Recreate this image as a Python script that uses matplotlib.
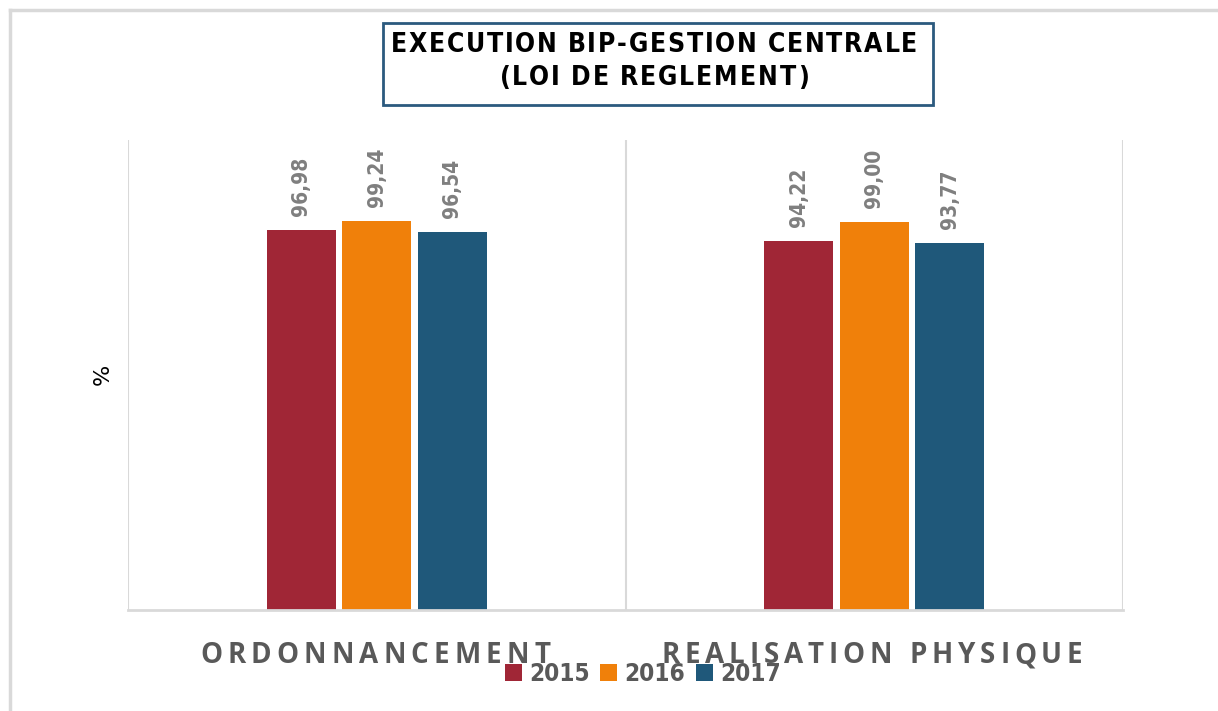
import matplotlib
matplotlib.use("Agg")
import matplotlib.pyplot as plt
from matplotlib.patches import Rectangle
from matplotlib.lines import Line2D

categories = ["ORDONNANCEMENT", "REALISATION PHYSIQUE"]
years = ["2015", "2016", "2017"]
values = {
    "2015": [96.98, 94.22],
    "2016": [99.24, 99.00],
    "2017": [96.54, 93.77],
}
labels = {
    "2015": ["96,98", "94,22"],
    "2016": ["99,24", "99,00"],
    "2017": ["96,54", "93,77"],
}
colors = {"2015": "#A02636", "2016": "#F0800A", "2017": "#1F587A"}
title_lines = ["EXECUTION BIP-GESTION CENTRALE", "(LOI DE REGLEMENT)"]

W, H = 1218, 711
fig = plt.figure(figsize=(W / 100, H / 100), dpi=100)
fig.patch.set_facecolor("white")

def fx(px):
    return px / W

def fy(py):
    return 1 - py / H

# outer chart border (left and top visible)
fig.add_artist(Line2D([fx(10), fx(10)], [fy(10), fy(711)], color="#D9D9D9", lw=2.5))
fig.add_artist(Line2D([fx(10), fx(1218)], [fy(10), fy(10)], color="#D9D9D9", lw=2.5))

ax = fig.add_axes([fx(128), fy(610), fx(1123) - fx(128), fy(140) - fy(610)])
ax.set_xlim(-0.5, 1.5)
ax.set_ylim(0, 120)
for s in ["top", "right", "left"]:
    ax.spines[s].set_visible(False)
ax.spines["bottom"].set_color("#D9D9D9")
ax.spines["bottom"].set_linewidth(2)
ax.set_xticks([])
ax.set_yticks([])
ax.patch.set_alpha(0)
for xv in [-0.5, 0.5, 1.5]:
    ax.axvline(xv, color="#D9D9D9", lw=1.5, zorder=0)

narrow = dict(family="DejaVu Sans", stretch="condensed", fontweight="bold")

bw = 0.139
step = 0.152
for i, y in enumerate(years):
    xs = [c + (i - 1) * step for c in range(len(categories))]
    ax.bar(xs, values[y], width=bw, color=colors[y], zorder=2)
    for x, v, lab in zip(xs, values[y], labels[y]):
        ax.annotate(lab, (x, v), xytext=(0, 10), textcoords="offset points",
                    rotation=90, ha="center", va="bottom", fontsize=15,
                    color="#7F7F7F", **narrow)

fig.text(fx(103), fy(374), "%", rotation=90, ha="center", va="center",
         fontsize=16, color="black")

renderer = fig.canvas.get_renderer()

def spaced_text(cx_px, base_px, s, target_w, space_w, **kw):
    widths = []
    for ch in s:
        if ch == " ":
            widths.append(space_w)
            continue
        t = fig.text(0, 0, ch, **kw)
        widths.append(t.get_window_extent(renderer).width)
        t.remove()
    spacing = (target_w - sum(widths)) / (len(s) - 1)
    x = cx_px - target_w / 2
    for ch, w in zip(s, widths):
        if ch != " ":
            fig.text(fx(x), fy(base_px), ch, ha="left", va="baseline", **kw)
        x += w + spacing

cat_kw = dict(fontsize=20, fontweight="bold", color="#595959",
              family=["Open Sans", "DejaVu Sans"])
spaced_text(375, 663, categories[0], 350, 8, **cat_kw)
spaced_text(872, 663, categories[1], 421, 8, **cat_kw)

# title box
fig.add_artist(Rectangle((fx(383), fy(105)), fx(933) - fx(383), fy(23) - fy(105),
                         fill=False, edgecolor="#2B5A7E", lw=2))
tkw = dict(fontsize=19, color="black", **narrow)
spaced_text(654, 52, title_lines[0], 527, 7, **tkw)
spaced_text(654, 85, title_lines[1], 309, 7, **tkw)

# legend
leg_kw = dict(fontsize=17.5, color="#595959", **narrow)
sq_x = [505, 600, 696]
txt_x = [529, 624, 720]
for y, x0, tx in zip(years, sq_x, txt_x):
    fig.add_artist(Rectangle((fx(x0), fy(681)), fx(17), fy(664) - fy(681),
                             facecolor=colors[y], edgecolor="none"))
    fig.text(fx(tx), fy(681), y, ha="left", va="baseline", **leg_kw)

fig.savefig("out.png", dpi=100, facecolor="white")
